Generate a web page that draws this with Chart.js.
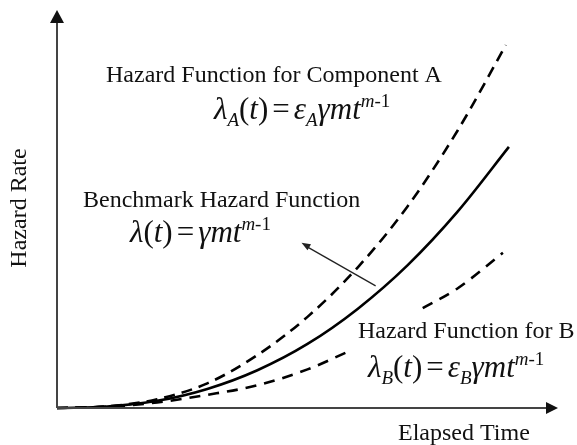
<!DOCTYPE html>
<html lang="en">
  <head>
    <meta charset="UTF-8" />
    <title>Hazard functions</title>
    <script src="https://cdn.jsdelivr.net/npm/chart.js"></script>
    <style>
      body { margin: 0; background: #fff; }
      #wrap { width: 577px; height: 445px; position: relative; }
    </style>
  </head>
  <body>
    <div id="wrap"><canvas id="hazardChart"></canvas></div>

    <script>
      // elapsed time (arbitrary units) and hazard rate
      const timeA = [0, 1, 2, 3, 4, 5, 6, 7, 8, 8.96];
      const hazardA = [0, 0.04, 0.22, 0.62, 1.33, 2.29, 3.53, 5.07, 6.98, 9.12];

      const timeBench = [0, 1, 2, 3, 4, 5, 6, 7, 8, 9.02];
      const hazardBench = [0, 0.035, 0.18, 0.48, 0.95, 1.61, 2.49, 3.59, 4.94, 6.56];

      // B curve has a break where its label sits
      const timeB = [0, 1, 2, 3, 4, 5, 5.8, 6.5, 7.3, 8, 8.9];
      const hazardB = [0, 0.03, 0.14, 0.33, 0.57, 0.97, 1.41, null, 2.51, 3.01, 3.9];

      // pointer from benchmark curve to its label: [time, hazard]
      const pointerFrom = [6.36, 3.07];
      const pointerTo = [4.88, 4.15];

      const toPoints = (xs, ys) => xs.map((x, i) => ({ x: x, y: ys[i] }));

      const SERIF = "'Liberation Serif', 'Times New Roman', serif";
      const INK = "#111";

      function arrowHead(ctx, x1, y1, x2, y2, len, half) {
        const a = Math.atan2(y2 - y1, x2 - x1);
        ctx.beginPath();
        ctx.moveTo(x2, y2);
        ctx.lineTo(x2 - len * Math.cos(a) + half * Math.sin(a), y2 - len * Math.sin(a) - half * Math.cos(a));
        ctx.lineTo(x2 - len * Math.cos(a) - half * Math.sin(a), y2 - len * Math.sin(a) + half * Math.cos(a));
        ctx.closePath();
        ctx.fill();
      }

      // draws a run list like [text, italic?, "sub"|"sup"|"gap"]
      function formula(ctx, runs, x, y, size) {
        let cx = x;
        runs.forEach(([txt, it, pos]) => {
          if (pos === "pad") { cx += txt; return; }
          const s = pos ? Math.round(size * 0.6) : size;
          const dy = pos === "sub" ? size * 0.22 : pos === "sup" ? -size * 0.38 : 0;
          ctx.font = (it ? "italic " : "") + s + "px " + SERIF;
          ctx.fillText(txt, cx, y + dy);
          cx += ctx.measureText(txt).width;
        });
      }

      const eq = [[4, 0, "pad"], ["=", 0], [4, 0, "pad"]];
      const tail = [["γmt", 1], ["m", 1, "sup"], ["-1", 0, "sup"]];

      const decor = {
        id: "decor",
        afterDatasetsDraw(chart) {
          const { ctx, scales } = chart;
          const xs = scales.x, ys = scales.y;
          const ox = xs.getPixelForValue(0), oy = ys.getPixelForValue(0);
          const right = chart.chartArea.right, top = chart.chartArea.top;

          ctx.save();
          // axes with arrows
          ctx.strokeStyle = "#444";
          ctx.fillStyle = "#111";
          ctx.lineWidth = 2;
          ctx.beginPath();
          ctx.moveTo(ox, oy);
          ctx.lineTo(ox, top + 8);
          ctx.moveTo(ox, oy);
          ctx.lineTo(right - 8, oy);
          ctx.stroke();
          arrowHead(ctx, ox, oy, ox, top, 13, 7);
          arrowHead(ctx, ox, oy, right, oy, 12, 6);

          // pointer arrow
          const px1 = xs.getPixelForValue(pointerFrom[0]), py1 = ys.getPixelForValue(pointerFrom[1]);
          const px2 = xs.getPixelForValue(pointerTo[0]), py2 = ys.getPixelForValue(pointerTo[1]);
          ctx.strokeStyle = "#222";
          ctx.lineWidth = 1.3;
          ctx.beginPath();
          ctx.moveTo(px1, py1);
          ctx.lineTo(px2 + 4, py2 + 3);
          ctx.stroke();
          ctx.fillStyle = "#222";
          arrowHead(ctx, px1, py1, px2, py2, 9, 3.5);

          // labels
          ctx.fillStyle = INK;
          ctx.textBaseline = "alphabetic";
          ctx.textAlign = "left";
          ctx.font = "24px " + SERIF;
          ctx.fillText("Hazard Function for Component A", 106, 82);
          ctx.fillText("Benchmark Hazard Function", 83, 207);
          ctx.fillText("Hazard Function for B", 358, 338);
          ctx.fillText("Elapsed Time", 398, 440);

          formula(ctx, [["λ", 1], ["A", 1, "sub"], ["(", 0], ["t", 1], [")", 0]].concat(eq,
            [["ε", 1], ["A", 1, "sub"]], tail), 214, 119, 31);
          formula(ctx, [["λ", 1], ["(", 0], ["t", 1], [")", 0]].concat(eq, tail), 130, 242, 31);
          formula(ctx, [["λ", 1], ["B", 1, "sub"], ["(", 0], ["t", 1], [")", 0]].concat(eq,
            [["ε", 1], ["B", 1, "sub"]], tail), 368, 377, 31);

          ctx.translate(26, 208);
          ctx.rotate(-Math.PI / 2);
          ctx.textAlign = "center";
          ctx.font = "24px " + SERIF;
          ctx.fillText("Hazard Rate", 0, 0);
          ctx.restore();
        },
      };

      const lineStyle = {
        borderColor: "#000",
        borderWidth: 2.6,
        pointRadius: 0,
        fill: false,
        cubicInterpolationMode: "monotone",
        spanGaps: false,
        clip: false,
      };

      new Chart(document.getElementById("hazardChart"), {
        type: "line",
        data: {
          datasets: [
            Object.assign({ label: "Component A", data: toPoints(timeA, hazardA), borderDash: [11, 7] }, lineStyle),
            Object.assign({ label: "Benchmark", data: toPoints(timeBench, hazardBench) }, lineStyle),
            Object.assign({ label: "Component B", data: toPoints(timeB, hazardB), borderDash: [11, 8] }, lineStyle),
          ],
        },
        options: {
          responsive: true,
          maintainAspectRatio: false,
          animation: false,
          devicePixelRatio: 1,
          layout: { padding: { left: 57, right: 19, top: 10, bottom: 37 } },
          plugins: { legend: { display: false }, tooltip: { enabled: false } },
          scales: {
            x: { type: "linear", min: 0, max: 10, display: false },
            y: { min: 0, max: 10, display: false },
          },
        },
        plugins: [decor],
      });
    </script>
  </body>
</html>
